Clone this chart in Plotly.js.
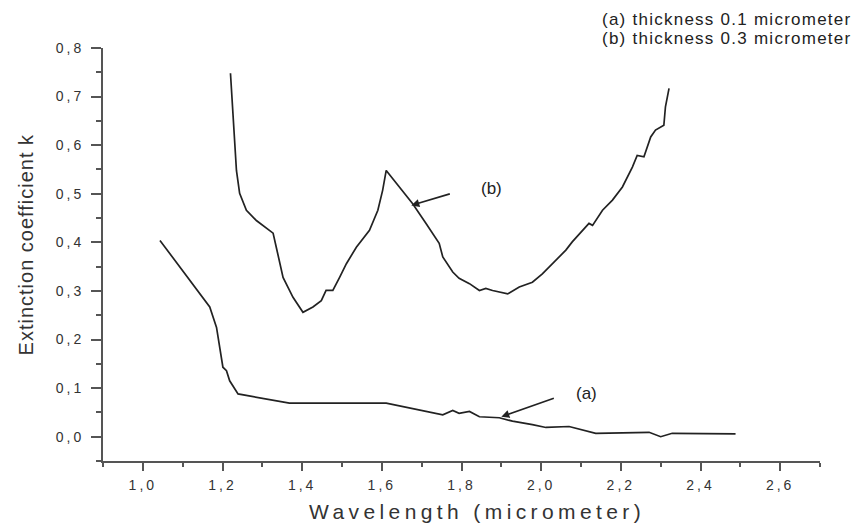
<!DOCTYPE html>
<html>
<head>
<meta charset="utf-8">
<script src="https://cdn.plot.ly/plotly-3.0.1.min.js"></script>
<style>html,body{margin:0;padding:0;background:#fff;}#chart{width:858px;height:526px;}</style>
</head>
<body>
<div id="chart"></div>
<script>
// Curve (b): thickness 0.3 micrometer
var wavelengthB = [1.220,1.229,1.235,1.243,1.260,1.285,1.327,1.335,1.352,1.377,1.402,1.427,1.448,1.460,1.477,1.494,1.511,1.536,1.569,1.590,1.602,1.611,1.644,1.677,1.711,1.744,1.753,1.778,1.794,1.820,1.845,1.861,1.878,1.916,1.945,1.978,2.003,2.037,2.062,2.078,2.104,2.120,2.129,2.154,2.179,2.204,2.229,2.241,2.258,2.275,2.287,2.308,2.312,2.321];
var kB = [0.748,0.638,0.548,0.501,0.466,0.445,0.419,0.390,0.328,0.287,0.256,0.267,0.280,0.301,0.301,0.328,0.356,0.390,0.425,0.466,0.507,0.548,0.514,0.480,0.439,0.398,0.370,0.339,0.326,0.315,0.301,0.305,0.301,0.294,0.308,0.318,0.335,0.363,0.384,0.401,0.425,0.439,0.435,0.466,0.487,0.514,0.555,0.579,0.576,0.617,0.631,0.641,0.679,0.717];
// Curve (a): thickness 0.1 micrometer
var wavelengthA = [1.043,1.093,1.151,1.168,1.185,1.201,1.210,1.218,1.239,1.368,1.611,1.753,1.778,1.794,1.820,1.845,1.895,1.928,1.978,2.012,2.070,2.137,2.271,2.300,2.329,2.488];
var kA = [0.404,0.349,0.287,0.267,0.225,0.143,0.136,0.115,0.088,0.069,0.069,0.045,0.054,0.048,0.052,0.041,0.039,0.032,0.025,0.019,0.021,0.007,0.009,0.000,0.007,0.006];
var xTickVals = [1.0,1.2,1.4,1.6,1.8,2.0,2.2,2.4,2.6];
var xTickText = ["1,0","1,2","1,4","1,6","1,8","2,0","2,2","2,4","2,6"];
var yTickVals = [0.0,0.1,0.2,0.3,0.4,0.5,0.6,0.7,0.8];
var yTickText = ["0,0","0,1","0,2","0,3","0,4","0,5","0,6","0,7","0,8"];
var legendLines = ["(a) thickness 0.1 micrometer","(b) thickness 0.3 micrometer"];
var xTitle = "Wavelength (micrometer)";
var yTitle = "Extinction coefficient k";

function sp(t, s){ return '<span style="letter-spacing:' + s + 'px">' + t + '</span>'; }

var lineStyle = {color:'#222', width:1.7};
var traces = [
  {x: wavelengthA, y: kA, mode:'lines', line: lineStyle, name:'(a)', showlegend:false, hoverinfo:'skip'},
  {x: wavelengthB, y: kB, mode:'lines', line: lineStyle, name:'(b)', showlegend:false, hoverinfo:'skip'}
];

var tickFont = {family:'Liberation Sans, Arial, sans-serif', size:14, color:'#333'};
var layout = {
  width:858, height:526,
  margin:{l:103, r:38, t:48, b:65},
  paper_bgcolor:'#fff', plot_bgcolor:'#fff',
  showlegend:false,
  font:{family:'Liberation Sans, Arial, sans-serif', color:'#333'},
  xaxis:{
    range:[0.9,2.7], showgrid:false, zeroline:false,
    showline:true, linecolor:'#555', linewidth:2,
    ticks:'outside', ticklen:8, tickwidth:2, tickcolor:'#555',
    tickvals:xTickVals, ticktext:xTickText.map(function(t){return sp(t,3);}),
    tickfont:tickFont, ticklabelstandoff:2,
    minor:{dtick:0.1, tick0:0.9, ticks:'outside', ticklen:4, tickwidth:2, tickcolor:'#555', showgrid:false},
    title:{text:''}
  },
  yaxis:{
    range:[-0.05,0.8], showgrid:false, zeroline:false,
    showline:true, linecolor:'#555', linewidth:2,
    ticks:'outside', ticklen:10, tickwidth:2, tickcolor:'#555',
    tickvals:yTickVals, ticktext:yTickText.map(function(t){return sp(t,3);}),
    tickfont:tickFont, ticklabelstandoff:4,
    minor:{dtick:0.05, tick0:0, ticks:'outside', ticklen:5, tickwidth:2, tickcolor:'#555', showgrid:false},
    title:{text:''}
  },
  annotations:[
    {xref:'paper', yref:'paper', x:-0.107, y:0.525, xanchor:'center', yanchor:'middle', textangle:-90, text:sp(yTitle,1), showarrow:false, font:{size:20, color:'#333'}},
    {xref:'paper', yref:'paper', x:0.522, y:-0.123, xanchor:'center', yanchor:'middle', text:sp(xTitle,4.4), showarrow:false, font:{size:21, color:'#333'}},
    {xref:'paper', yref:'paper', x:1.046, y:1.070, xanchor:'right', yanchor:'middle', text:sp(legendLines[0],1.25), showarrow:false, font:{size:17, color:'#222'}},
    {xref:'paper', yref:'paper', x:1.046, y:1.022, xanchor:'right', yanchor:'middle', text:sp(legendLines[1],1.25), showarrow:false, font:{size:17, color:'#222'}},
    {x:1.875, y:0.511, text:'(b)', showarrow:false, font:{size:17, color:'#222'}},
    {x:2.113, y:0.089, text:'(a)', showarrow:false, font:{size:17, color:'#222'}},
    {x:1.674, y:0.476, ax:40, ay:-12, text:'', showarrow:true, arrowhead:2, arrowsize:1, arrowwidth:1.6, arrowcolor:'#222'},
    {x:1.900, y:0.041, ax:54, ay:-19, text:'', showarrow:true, arrowhead:2, arrowsize:1, arrowwidth:1.6, arrowcolor:'#222'}
  ]
};
Plotly.newPlot('chart', traces, layout, {staticPlot:true, displayModeBar:false});
</script>
</body>
</html>
